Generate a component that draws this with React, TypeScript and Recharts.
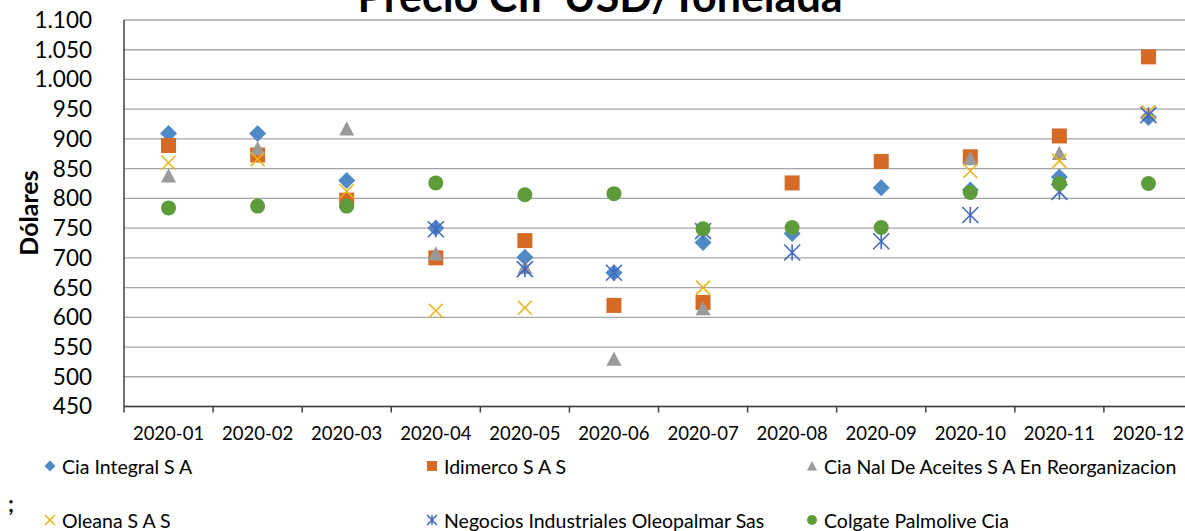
import React from 'react';
import { LineChart, Line, XAxis, YAxis, CartesianGrid } from 'recharts';

const months = ['2020-01', '2020-02', '2020-03', '2020-04', '2020-05', '2020-06', '2020-07', '2020-08', '2020-09', '2020-10', '2020-11', '2020-12'];
const ciaIntegral = [909, 909, 830, 750, 701, 675, 726, 741, 818, 814, 836, 936];
const idimerco = [889, 873, 797, 700, 729, 620, 625, 826, 862, 870, 905, 1038];
const ciaNal = [838, 884, 917, 707, 684, 530, 615, null, null, 867, 876, null];
const oleana = [860, 866, 812, 611, 616, null, 650, null, null, 846, 863, 945];
const negocios = [null, null, null, 748, 681, 675, 745, 709, 728, 772, 811, 940];
const colgate = [784, 787, 787, 826, 806, 808, 749, 751, 751, 810, 825, 825];
const seriesNames = [
  'Cia Integral S A',
  'Idimerco S A S',
  'Cia Nal De Aceites S A En Reorganizacion',
  'Oleana S A S',
  'Negocios Industriales Oleopalmar Sas',
  'Colgate Palmolive Cia',
];
const yTicks = [450, 500, 550, 600, 650, 700, 750, 800, 850, 900, 950, 1000, 1050, 1100];
const title = 'Precio CIF USD/Tonelada';
const yLabel = 'Dólares';

type Shape = 'diamond' | 'square' | 'triangle' | 'x' | 'star' | 'circle';
const series: { key: string; name: string; values: (number | null)[]; color: string; shape: Shape }[] = [
  { key: 's0', name: seriesNames[0], values: ciaIntegral, color: '#4F89C6', shape: 'diamond' },
  { key: 's1', name: seriesNames[1], values: idimerco, color: '#D46A26', shape: 'square' },
  { key: 's2', name: seriesNames[2], values: ciaNal, color: '#9A9A9A', shape: 'triangle' },
  { key: 's3', name: seriesNames[3], values: oleana, color: '#EDB418', shape: 'x' },
  { key: 's4', name: seriesNames[4], values: negocios, color: '#4169C0', shape: 'star' },
  { key: 's5', name: seriesNames[5], values: colgate, color: '#5E9C3B', shape: 'circle' },
];

const data = months.map((m, i) => {
  const row: Record<string, string | number | null> = { month: m };
  series.forEach((s) => {
    row[s.key] = s.values[i];
  });
  return row;
});

const FONT = 'Lato, "Open Sans", sans-serif';
const chartW = 1200;
const chartH = 531;
const margin = { top: 20, right: 7, bottom: 84.5, left: 0 };
const yAxisW = 124;
const xAxisH = 40;
const plotW = chartW - margin.left - margin.right - yAxisW;
const halfBand = plotW / months.length / 2;
const xTickGap = 20;

function marker(shape: Shape, cx: number, cy: number, s: number, color: string, key?: string) {
  const h = s / 2;
  switch (shape) {
    case 'diamond':
      return <polygon key={key} points={`${cx},${cy - h} ${cx + h},${cy} ${cx},${cy + h} ${cx - h},${cy}`} fill={color} />;
    case 'square':
      return <rect key={key} x={cx - h} y={cy - h} width={s} height={s} fill={color} />;
    case 'triangle':
      return <polygon key={key} points={`${cx},${cy - h} ${cx + h},${cy + h * 0.9} ${cx - h},${cy + h * 0.9}`} fill={color} />;
    case 'x':
      return (
        <g key={key} stroke={color} strokeWidth={1.6}>
          <line x1={cx - h} y1={cy - h} x2={cx + h} y2={cy + h} />
          <line x1={cx - h} y1={cy + h} x2={cx + h} y2={cy - h} />
        </g>
      );
    case 'star':
      return (
        <g key={key} stroke={color} strokeWidth={1.6}>
          <line x1={cx - h} y1={cy - h} x2={cx + h} y2={cy + h} />
          <line x1={cx - h} y1={cy + h} x2={cx + h} y2={cy - h} />
          <line x1={cx} y1={cy - h} x2={cx} y2={cy + h} />
        </g>
      );
    case 'circle':
    default:
      return <circle key={key} cx={cx} cy={cy} r={h} fill={color} />;
  }
}

const markerSize: Record<Shape, number> = { diamond: 17, square: 15, triangle: 15, x: 14, star: 16, circle: 15 };

const fmt = (v: number) => (v >= 1000 ? `${Math.floor(v / 1000)}.${String(v % 1000).padStart(3, '0')}` : String(v));

const XTick = (props: any) => {
  const { x, y, payload } = props;
  const axisY = y - xTickGap;
  return (
    <g>
      <line x1={x - halfBand} x2={x - halfBand} y1={axisY} y2={axisY + 6} stroke="#404040" strokeWidth={1.5} />
      <text x={x} y={y} dy="0.71em" textAnchor="middle" fontSize={18.5} fontFamily={FONT} fill="#000">
        {payload.value}
      </text>
    </g>
  );
};

const legendCols = [50, 432, 812];
const legendRows = [466, 520];

export default function App() {
  return (
    <div style={{ position: 'absolute', left: 0, top: 0, width: 1185, height: 531, overflow: 'hidden', background: '#fff' }}>
      <LineChart width={chartW} height={chartH} data={data} margin={margin}>
        <CartesianGrid horizontal vertical={false} stroke="#a6a6a6" strokeWidth={1.3} />
        <XAxis
          dataKey="month"
          type="category"
          height={xAxisH}
          padding={{ left: halfBand, right: halfBand }}
          axisLine={{ stroke: '#404040', strokeWidth: 1.5 }}
          tickLine={false}
          tickSize={0}
          tickMargin={xTickGap}
          interval={0}
          tick={<XTick />}
        />
        <YAxis
          width={yAxisW}
          domain={[450, 1100]}
          ticks={yTicks}
          interval={0}
          tickFormatter={fmt}
          axisLine={{ stroke: '#404040', strokeWidth: 1.5 }}
          tickLine={false}
          tickSize={0}
          tickMargin={32}
          tick={{ fontSize: 22.5, fill: '#000', fontFamily: FONT }}
          allowDataOverflow
        />
        {series.map((s) => (
          <Line
            key={s.key}
            dataKey={s.key}
            name={s.name}
            stroke="none"
            isAnimationActive={false}
            activeDot={false}
            legendType="none"
            dot={(p: any) => {
              const k = `${s.key}-${p.index}`;
              if (p.value == null || p.cy == null || Number.isNaN(p.cy)) return <g key={k} />;
              return marker(s.shape, p.cx, p.cy, markerSize[s.shape], s.color, k);
            }}
          />
        ))}
      </LineChart>
      <svg width={1185} height={531} style={{ position: 'absolute', left: 0, top: 0, pointerEvents: 'none' }}>
        <text x={600} y={12} textAnchor="middle" fontSize={43} fontWeight="bold" fontFamily={FONT} fill="#000">
          {title}
        </text>
        <text
          x={28}
          y={213}
          transform="rotate(-90, 28, 213)"
          textAnchor="middle"
          dominantBaseline="central"
          fontSize={25}
          fontWeight="bold"
          fontFamily={FONT}
          fill="#000"
        >
          {yLabel}
        </text>
        <text x={8} y={512} fontSize={22} fontWeight="bold" fontFamily={FONT} fill="#000">;</text>
        {series.map((s, i) => {
          const cx = legendCols[i % 3];
          const cy = legendRows[Math.floor(i / 3)];
          return (
            <g key={s.key}>
              {marker(s.shape, cx, cy, s.shape === 'diamond' ? 11 : 10, s.color)}
              <text x={cx + 12} y={cy} dominantBaseline="central" fontSize={19.5} fontFamily={FONT} fill="#000">
                {s.name}
              </text>
            </g>
          );
        })}
      </svg>
    </div>
  );
}
